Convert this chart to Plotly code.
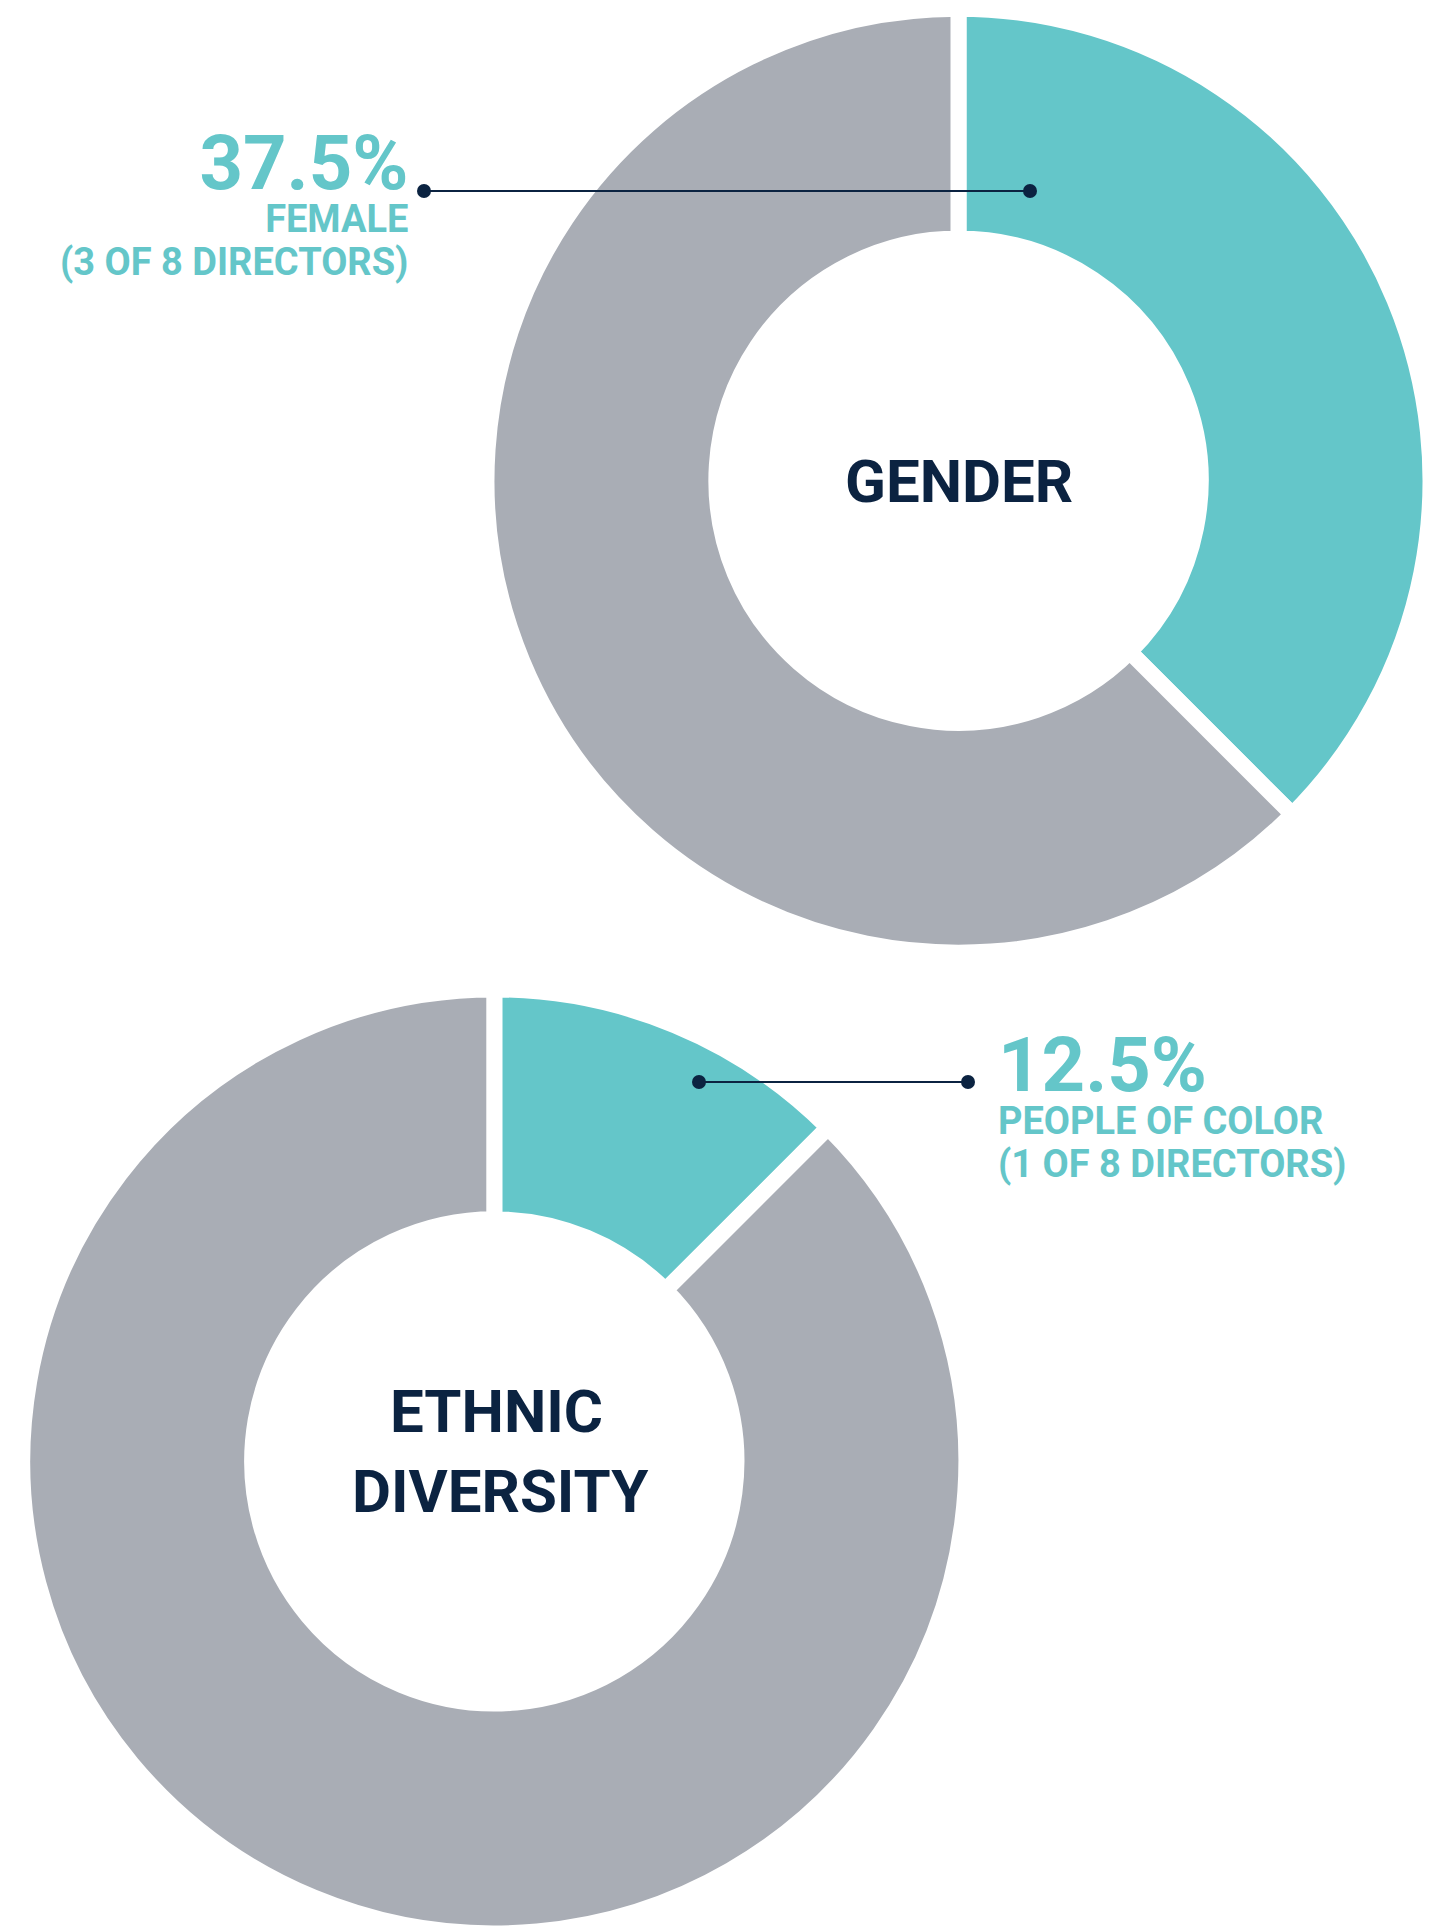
import plotly.graph_objects as go

# data
gender_labels = ["Female", "Male"]
gender_counts = [3, 5]
ethnic_labels = ["People of color", "Other"]
ethnic_counts = [1, 7]

W, H = 1435, 1928
OFF = 8  # page body margin, positions below are page pixels
TEAL = "#64C6C9"
GRAY = "#A9ADB5"
NAVY = "#0B2341"
FONT = "Roboto"


def px(x):
    return (x - OFF) / W


def py(y):
    return 1 - (y - OFF) / H


def donut(labels, values, cx, cy, r):
    # domain centred on (cx, cy) in page pixels, radius r
    return go.Pie(
        labels=labels,
        values=values,
        sort=False,
        direction="clockwise",
        rotation=0,
        hole=0.513,
        textinfo="none",
        hoverinfo="label+value+percent",
        marker=dict(colors=[TEAL, GRAY], line=dict(color="white", width=16)),
        domain=dict(x=[max(0, px(cx - r)), min(1, px(cx + r))],
                    y=[max(0, py(cy + r)), min(1, py(cy - r))]),
        showlegend=False,
    )


R = 472
fig = go.Figure([
    donut(gender_labels, gender_counts, 958.5, 480.7, R),
    donut(ethnic_labels, ethnic_counts, 494.3, 1461.4, R),
])

gender_share = gender_counts[0] / sum(gender_counts)
ethnic_share = ethnic_counts[0] / sum(ethnic_counts)


def callout(share, name, n, total, x, y_top, anchor):
    text = (f"<span style='font-size:76px'>{share:.1%}</span><br>"
            f"<span style='font-size:38px'>{name.upper()}</span><br>"
            f"<span style='font-size:38px'>({n} OF {total} DIRECTORS)</span>")
    return dict(text=text, x=px(x), y=py(y_top), xref="paper", yref="paper",
                xanchor=anchor, yanchor="top", align=anchor, showarrow=False,
                font=dict(family=FONT, size=33, color=TEAL, weight=700))


def title(text, x, y):
    return dict(text=text, x=px(x), y=py(y), xref="paper", yref="paper",
                xanchor="center", yanchor="middle", showarrow=False,
                font=dict(family=FONT, size=60, color=NAVY, weight=700))


annotations = [
    callout(gender_share, gender_labels[0], gender_counts[0], sum(gender_counts),
            410, 116, "right"),
    callout(ethnic_share, ethnic_labels[0], ethnic_counts[0], sum(ethnic_counts),
            996, 1018, "left"),
    title("GENDER", 959, 481),
    title("ETHNIC", 496, 1411.5),
    title("DIVERSITY", 500, 1491.5),
]

shapes = []
for (x0, x1, y) in [(424, 1030, 191), (699, 968, 1082)]:
    shapes.append(dict(type="line", xref="paper", yref="paper",
                       x0=px(x0), x1=px(x1), y0=py(y), y1=py(y),
                       line=dict(color=NAVY, width=2)))
    for x in (x0, x1):
        shapes.append(dict(type="circle", xref="paper", yref="paper",
                           xsizemode="pixel", ysizemode="pixel",
                           xanchor=px(x), yanchor=py(y),
                           x0=-7, x1=7, y0=-7, y1=7,
                           fillcolor=NAVY, line=dict(width=0)))

fig.update_layout(
    width=W, height=H,
    margin=dict(l=0, r=0, t=0, b=0),
    paper_bgcolor="white",
    plot_bgcolor="white",
    annotations=annotations,
    shapes=shapes,
)

fig.write_html("out.html")
